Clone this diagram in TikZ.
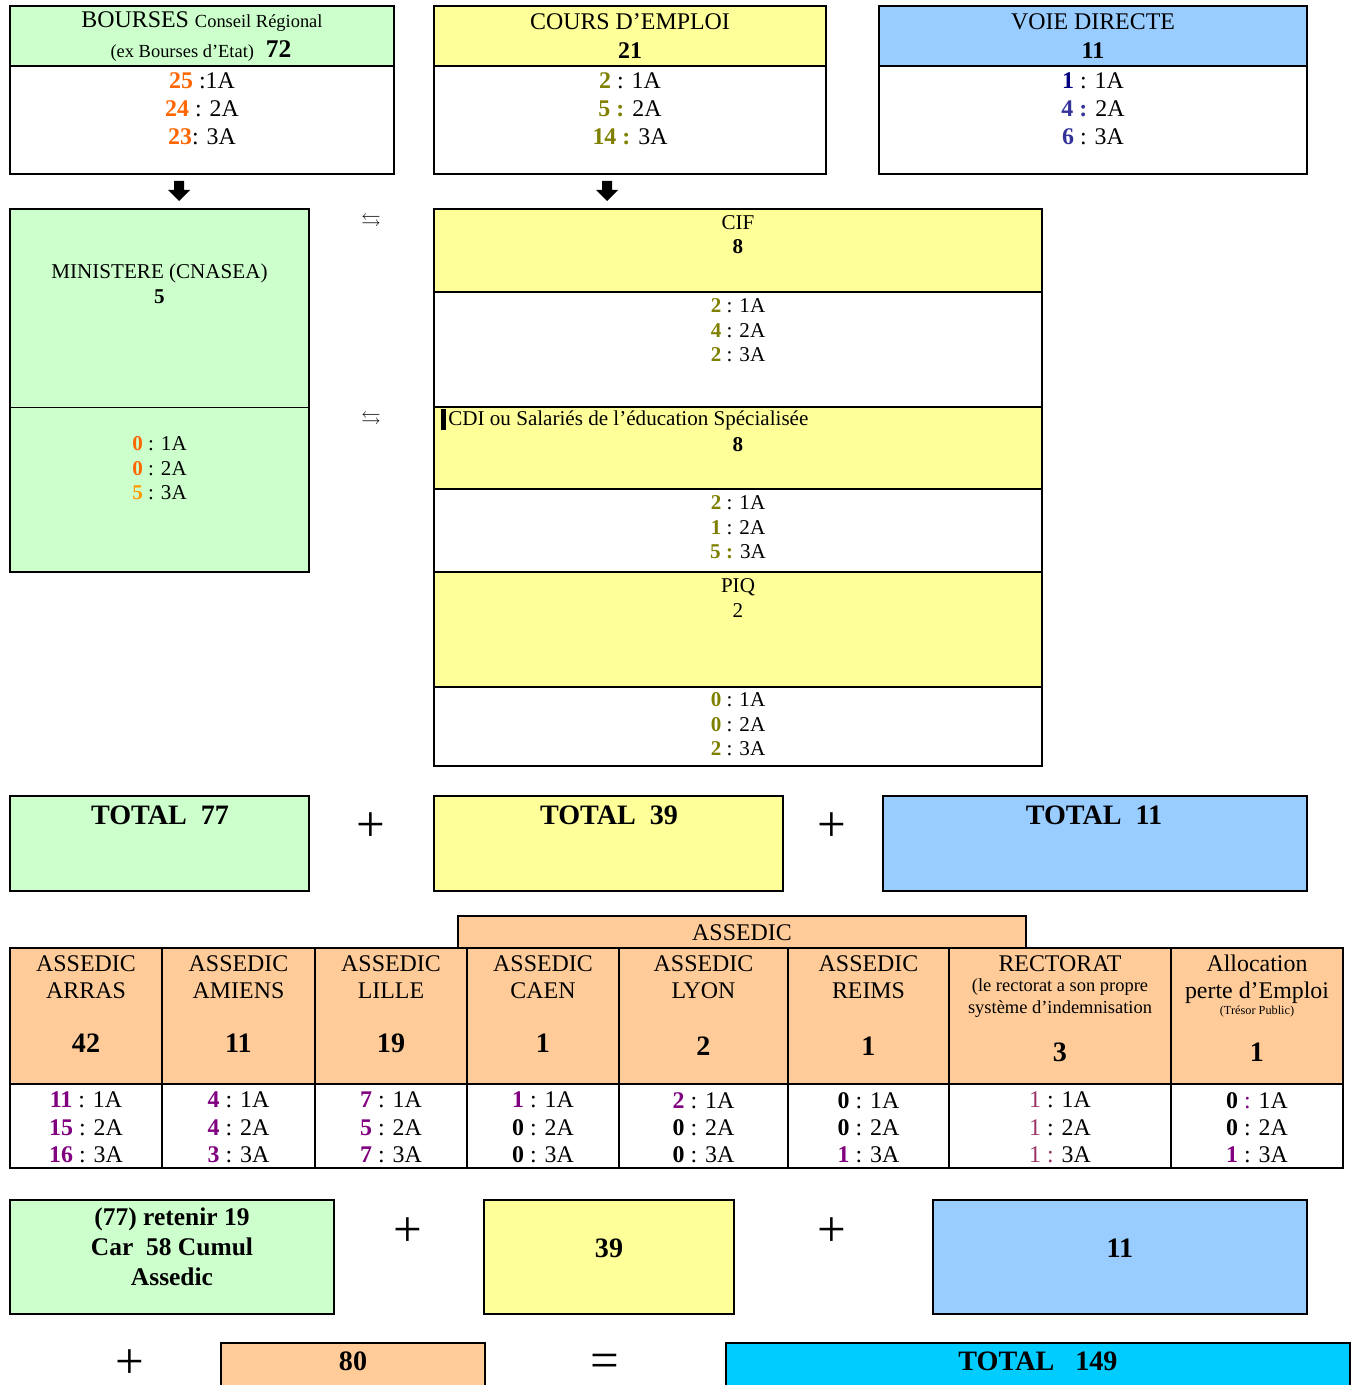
\documentclass[tikz,border=0pt]{standalone}
\usepackage{fontspec}
\setmainfont{Liberation Serif}
\usepackage{amssymb}
\definecolor{vert}{HTML}{CCFFCC}
\definecolor{jaune}{HTML}{FFFF99}
\definecolor{bleu}{HTML}{99CCFF}
\definecolor{saumon}{HTML}{FFCC99}
\definecolor{ciel}{HTML}{00CCFF}
\definecolor{orange1}{HTML}{FF6600}
\definecolor{orange2}{HTML}{FF9900}
\definecolor{olive}{HTML}{808000}
\definecolor{marine}{HTML}{000080}
\definecolor{indigo}{HTML}{333399}
\definecolor{violet1}{HTML}{800080}
\definecolor{prune}{HTML}{993366}
\begin{document}
\begin{tikzpicture}[x=0.02cm,y=-0.02cm]
\tikzset{
  box/.style={draw,line width=1.1pt},
  txt/.style={inner sep=0,align=center,font=\fontsize{13.6}{16}\selectfont},
  tab/.style={inner sep=0,align=center,font=\fontsize{13.6}{15.5}\selectfont},
  moy/.style={inner sep=0,align=center,font=\fontsize{12}{14}\selectfont},
  petit/.style={inner sep=0,align=center,font=\fontsize{10.5}{12.5}\selectfont},
  nombre/.style={inner sep=0,font=\bfseries\fontsize{16}{19}\selectfont},
  gros/.style={inner sep=0,align=center,font=\bfseries\fontsize{14.5}{17}\selectfont},
  signe/.style={inner sep=0,font=\fontsize{29}{31}\selectfont},
  echange/.style={inner sep=0,font=\fontsize{11}{13}\selectfont}
}
\useasboundingbox (0,0) rectangle (1354,1385);
\clip (0,0) rectangle (1354,1385);
% sources
\draw[box,fill=vert] (10,6) rectangle (394,66);
\draw[box] (10,66) rectangle (394,174);
\draw[box,fill=jaune] (434,6) rectangle (826,66);
\draw[box] (434,66) rectangle (826,174);
\draw[box,fill=bleu] (879,6) rectangle (1307,66);
\draw[box] (879,66) rectangle (1307,174);
\node[txt] (bourses) at (202,22) {BOURSES {\fontsize{10.5}{12}\selectfont Conseil Régional}};
\node[txt] (bourses-ex) at (201,51) {{\fontsize{10.5}{12}\selectfont (ex Bourses d’Etat)}\ \ {\bfseries\fontsize{14.5}{16}\selectfont 72}};
\node[txt] (bourses-an) at (202,109) {\textbf{\textcolor{orange1}{25}} :1A\\\textbf{\textcolor{orange1}{24}} : 2A\\\textbf{\textcolor{orange1}{23}}: 3A};
\node[txt] (cours) at (630,22) {COURS D’EMPLOI};
\node[txt,font=\bfseries\fontsize{13.6}{16}\selectfont] (cours-nb) at (630,51) {21};
\node[txt] (cours-an) at (630,109) {\textbf{\textcolor{olive}{2}} : 1A\\\textbf{\textcolor{olive}{5 :}} 2A\\\textbf{\textcolor{olive}{14 :}} 3A};
\node[txt] (voie) at (1093,22) {VOIE DIRECTE};
\node[txt,font=\bfseries\fontsize{13.6}{16}\selectfont] (voie-nb) at (1093,51) {11};
\node[txt] (voie-an) at (1093,109) {\textbf{\textcolor{marine}{1}} : 1A\\\textbf{\textcolor{indigo}{4 :}} 2A\\\textbf{\textcolor{indigo}{6}} : 3A};
\fill (174,181) -- (184,181) -- (184,190) -- (190,190) -- (179,201) -- (168,190) -- (174,190) -- cycle;
\fill (602,181) -- (612,181) -- (612,190) -- (618,190) -- (607,201) -- (596,190) -- (602,190) -- cycle;
% ministere
\draw[box,fill=vert] (10,209) rectangle (309,572);
\draw (10,407) -- (309,407);
\node[moy] (ministere) at (159.5,284) {MINISTERE (CNASEA)\\\textbf{5}};
\node[moy] (ministere-an) at (159.5,468.5) {\textbf{\textcolor{orange1}{0}} : 1A\\\textbf{\textcolor{orange1}{0}} : 2A\\\textbf{\textcolor{orange2}{5}} : 3A};
\node[echange] (echange1) at (371,221.5) {$\leftrightarrows$};
\node[echange] (echange2) at (371,419.5) {$\leftrightarrows$};
% dispositifs cours d'emploi
\draw[box,fill=jaune] (434,209) rectangle (1042,292);
\draw[box] (434,292) rectangle (1042,407);
\draw[box,fill=jaune] (434,407) rectangle (1042,489);
\draw[box] (434,489) rectangle (1042,572);
\draw[box,fill=jaune] (434,572) rectangle (1042,687);
\draw[box] (434,687) rectangle (1042,766);
\node[moy] (cif) at (738,234.5) {CIF\\\textbf{8}};
\node[moy] (cif-an) at (738,330.5) {\textbf{\textcolor{olive}{2}} : 1A\\\textbf{\textcolor{olive}{4}} : 2A\\\textbf{\textcolor{olive}{2}} : 3A};
\fill (441,409) rectangle (446,430);
\node[moy,anchor=west] (cdi) at (448,420) {CDI ou Salariés de l’éducation Spécialisée};
\node[moy,font=\bfseries\fontsize{12}{14}\selectfont] (cdi-nb) at (738,444.5) {8};
\node[moy] (cdi-an) at (738,527.5) {\textbf{\textcolor{olive}{2}} : 1A\\\textbf{\textcolor{olive}{1}} : 2A\\\textbf{\textcolor{olive}{5 :}} 3A};
\node[moy] (piq) at (738,598) {PIQ\\2};
\node[moy] (piq-an) at (738,724.5) {\textbf{\textcolor{olive}{0}} : 1A\\\textbf{\textcolor{olive}{0}} : 2A\\\textbf{\textcolor{olive}{2}} : 3A};
% totaux
\draw[box,fill=vert] (10,796) rectangle (309,891);
\draw[box,fill=jaune] (434,796) rectangle (783,891);
\draw[box,fill=bleu] (883,796) rectangle (1307,891);
\node[nombre] (total-vert) at (160,815) {TOTAL\ \ 77};
\node[nombre] (total-jaune) at (609,815) {TOTAL\ \ 39};
\node[nombre] (total-bleu) at (1094,815) {TOTAL\ \ 11};
\node[signe] (plus1) at (371,827) {+};
\node[signe] (plus2) at (832,827) {+};
% assedic
\draw[box,fill=saumon] (458,916) rectangle (1026,948);
\node[tab] (assedic) at (742,932.5) {ASSEDIC};
\draw[box,fill=saumon] (10,948) rectangle (1343,1084);
\draw[box] (10,1084) rectangle (1343,1168);
\foreach \x in {162,315,467,619,788,949,1171}
  \draw[box] (\x,948) -- (\x,1168);
\foreach \x/\nom/\nb/\y in {86/ARRAS/42/1043, 238.5/AMIENS/11/1043, 391/LILLE/19/1043, 543/CAEN/1/1043, 703.5/LYON/2/1046, 868.5/REIMS/1/1046}{
  \node[tab] (col-\nom) at (\x,977) {ASSEDIC\\\nom};
  \node[nombre] (nb-\nom) at (\x,\y) {\nb};
}
\node[tab] (rectorat) at (1060,963.5) {RECTORAT};
\node[petit] (rectorat-note) at (1060,998.5) {(le rectorat a son propre\\système d’indemnisation};
\node[nombre] (nb-rectorat) at (1060,1052) {3};
\node[tab] (alloc) at (1257,979.5) {Allocation\\perte d’Emploi};
\node[inner sep=0,font=\fontsize{7}{8}\selectfont] (tresor) at (1257,1012) {(Trésor Public)};
\node[nombre] (nb-alloc) at (1257,1052) {1};
\foreach \x/\nom/\a/\b/\c in {86/ARRAS/11/15/16, 238.5/AMIENS/4/4/3, 391/LILLE/7/5/7}
  \node[tab] (an-\nom) at (\x,1127.5) {\textbf{\textcolor{violet1}{\a}} : 1A\\\textbf{\textcolor{violet1}{\b}} : 2A\\\textbf{\textcolor{violet1}{\c}} : 3A};
\node[tab] (an-CAEN) at (543,1127.5) {\textbf{\textcolor{violet1}{1}} : 1A\\\textbf{0} : 2A\\\textbf{0} : 3A};
\node[tab] (an-LYON) at (703.5,1127.5) {\textbf{\textcolor{violet1}{2}} : 1A\\\textbf{0} : 2A\\\textbf{0} : 3A};
\node[tab] (an-REIMS) at (868.5,1127.5) {\textbf{0} : 1A\\\textbf{0} : 2A\\\textbf{\textcolor{violet1}{1}} : 3A};
\node[tab] (an-rectorat) at (1060,1127.5) {\textcolor{prune}{1} : 1A\\\textcolor{prune}{1} : 2A\\\textcolor{prune}{1 :} 3A};
\node[tab] (an-alloc) at (1257,1127.5) {\textbf{0} \textcolor{violet1}{:} 1A\\\textbf{0} : 2A\\\textbf{\textcolor{violet1}{1}} : 3A};
% bilan
\draw[box,fill=vert] (10,1200) rectangle (334,1314);
\draw[box,fill=jaune] (484,1200) rectangle (734,1314);
\draw[box,fill=bleu] (933,1200) rectangle (1307,1314);
\node[gros] (retenir) at (172,1247) {(77) retenir 19\\Car\ \ 58 Cumul\\Assedic};
\node[nombre] (bilan-jaune) at (609,1248) {39};
\node[nombre] (bilan-bleu) at (1120,1248) {11};
\node[signe] (plus3) at (408,1232) {+};
\node[signe] (plus4) at (832,1232) {+};
\draw[box,fill=saumon] (221,1343) rectangle (485,1400);
\draw[box,fill=ciel] (726,1343) rectangle (1350,1400);
\node[signe] (plus5) at (130,1364) {+};
\node[nombre] (bilan-assedic) at (353,1361) {80};
\node[signe] (egal) at (605,1366) {=};
\node[nombre] (total) at (1038,1361) {TOTAL\ \ \ 149};
\end{tikzpicture}
\end{document}
